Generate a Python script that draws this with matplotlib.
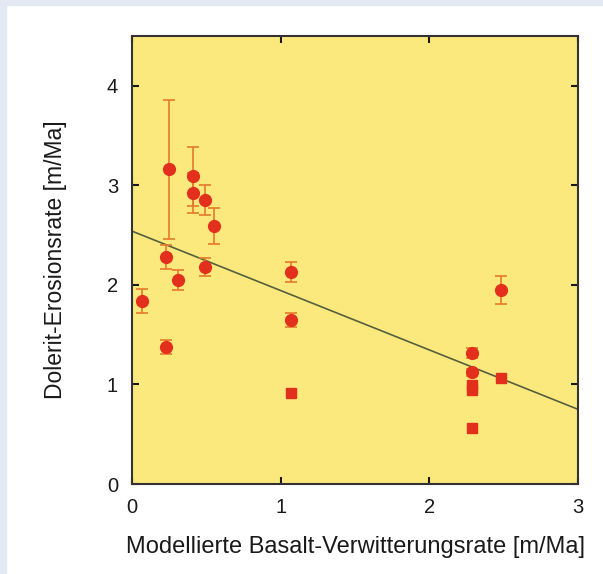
import matplotlib
matplotlib.use("Agg")
import matplotlib.pyplot as plt
from matplotlib.patches import Rectangle

# Messwerte mit Fehlerbalken (Kreise)
x_circ = [0.07, 0.23, 0.23, 0.25, 0.31, 0.41, 0.41, 0.49, 0.55, 0.49, 1.07, 1.07, 2.48, 2.29, 2.29]
y_circ = [1.84, 2.28, 1.38, 3.16, 2.05, 3.09, 2.92, 2.85, 2.59, 2.18, 2.13, 1.65, 1.95, 1.32, 1.12]
e_circ = [0.12, 0.12, 0.07, 0.70, 0.10, 0.30, 0.20, 0.15, 0.18, 0.09, 0.10, 0.07, 0.14, 0.05, 0.04]

# Werte ohne Fehlerbalken (Quadrate)
x_sq = [1.07, 2.29, 2.29, 2.29, 2.48]
y_sq = [0.91, 0.99, 0.94, 0.56, 1.06]

# Regressionsgerade
x_fit = [0.0, 3.0]
y_fit = [2.54, 0.75]

fig = plt.figure(figsize=(6.03, 5.74), dpi=100, facecolor="white")
plt.rcParams['font.family'] = ['Liberation Sans', 'DejaVu Sans']

# hellblauer Rahmen links und oben
fig.patches.append(Rectangle((0, 0), 6 / 603, 1, transform=fig.transFigure,
                             color="#e2e9f3", zorder=0))
fig.patches.append(Rectangle((0, 1 - 5 / 574), 1, 5 / 574, transform=fig.transFigure,
                             color="#e2e9f3", zorder=0))

ax = fig.add_axes([132 / 603, 1 - 484 / 574, 446 / 603, 448 / 574])
ax.set_facecolor("#fbe97e")

ax.plot(x_fit, y_fit, color="#56603e", lw=1.2, zorder=2)
ax.errorbar(x_circ, y_circ, yerr=e_circ, fmt="o", color="#e3301c", ms=8.5,
            ecolor="#e67a2c", elinewidth=1.2, capsize=4, capthick=1.2, zorder=3)
ax.plot(x_sq, y_sq, "s", color="#e3301c", ms=7, zorder=3)

ax.set_xlim(0, 3)
ax.set_ylim(0, 4.5)
ax.set_xticks([0, 1, 2, 3])
ax.set_yticks([0, 1, 2, 3, 4])
ax.tick_params(direction="in", top=True, right=True, length=5, width=1.5,
               labelsize=14.5, pad=10, colors="#1a1a1a")
for s in ax.spines.values():
    s.set_linewidth(1.5)
    s.set_color("#333333")

ax.set_xlabel("Modellierte Basalt-Verwitterungsrate [m/Ma]", fontsize=17,
              color="#1a1a1a", labelpad=14)
ax.set_ylabel("Dolerit-Erosionsrate [m/Ma]", fontsize=16.5, color="#1a1a1a",
              labelpad=29)

fig.savefig("out.png", dpi=100, facecolor=fig.get_facecolor())
